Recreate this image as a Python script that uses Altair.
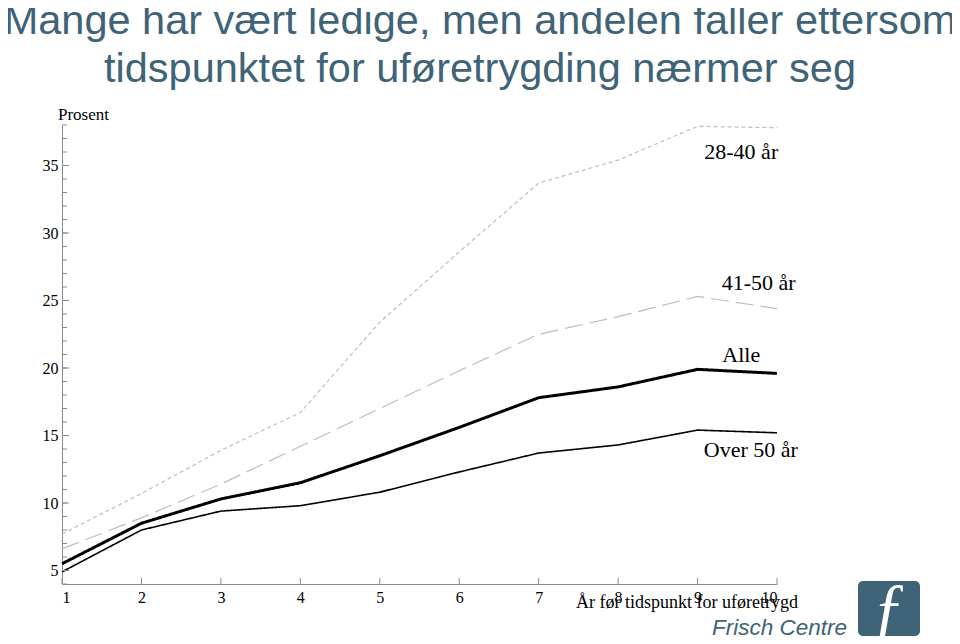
import altair as alt
import pandas as pd

years = [1, 2, 3, 4, 5, 6, 7, 8, 9, 10]
alle = [5.5, 8.5, 10.3, 11.5, 13.5, 15.6, 17.8, 18.6, 19.9, 19.6]
over50 = [4.9, 8.0, 9.4, 9.8, 10.8, 12.3, 13.7, 14.3, 15.4, 15.2]
age41_50 = [6.6, 8.9, 11.4, 14.2, 17.0, 19.8, 22.5, 23.8, 25.3, 24.4]
age28_40 = [7.7, 10.7, 13.9, 16.7, 23.4, 28.6, 33.7, 35.4, 37.9, 37.8]

series_names = ["28-40 år", "41-50 år", "Alle", "Over 50 år"]
label_x = [9.55, 9.77, 9.55, 9.67]
label_y = [36.0, 26.3, 21.0, 13.9]

y_major = [5, 10, 15, 20, 25, 30, 35]
y_minor = list(range(4, 39))

title1 = "Mange har vært ledige, men andelen faller ettersom"
title2 = "tidspunktet for uføretrygding nærmer seg"
y_title = "Prosent"
x_title = "År før tidspunkt for uføretrygd"

W, H = 715, 459
SERIF = "Liberation Serif"
TEAL = "#3f6377"

xs = alt.Scale(domain=[1, 10], nice=False)
ys = alt.Scale(domain=[4, 38], nice=False)

x_axis = alt.Axis(values=years, format="d", tickSize=0, labelPadding=5,
                  labelFont=SERIF, labelFontSize=16, labelColor="#000",
                  domainColor="#8a8a8a", grid=False, title="", labelAngle=0)
y_axis = alt.Axis(values=y_major, format="d", tickSize=0, labelPadding=4,
                  labelFont=SERIF, labelFontSize=16, labelColor="#000",
                  domainColor="#8a8a8a", grid=False, title="")


def series_layer(vals, color, width, dash, axes=False):
    d = pd.DataFrame({"year": years, "value": vals})
    m = alt.Chart(d).mark_line(color=color, strokeWidth=width, strokeDash=dash)
    if axes:
        return m.encode(x=alt.X("year:Q", scale=xs, axis=x_axis),
                        y=alt.Y("value:Q", scale=ys, axis=y_axis))
    return m.encode(x=alt.X("year:Q", scale=xs), y=alt.Y("value:Q", scale=ys))


l_28 = series_layer(age28_40, "#bdbdbd", 1.2, [4, 3], axes=True)
l_41 = series_layer(age41_50, "#bdbdbd", 1.2, [18, 7])
l_alle = series_layer(alle, "#000000", 3, [1, 0])
l_over = series_layer(over50, "#000000", 1.6, [1, 0])

lab_df = pd.DataFrame({"name": series_names, "x": label_x, "y": label_y})
labels = alt.Chart(lab_df).mark_text(font=SERIF, fontSize=22, color="#000",
                                     baseline="middle", align="center").encode(
    x=alt.X("x:Q", scale=xs), y=alt.Y("y:Q", scale=ys), text="name:N")

minor_df = pd.DataFrame({"v": y_minor})
ytick_minor = alt.Chart(minor_df).mark_rule(color="#8a8a8a", strokeWidth=1).encode(
    y=alt.Y("v:Q", scale=ys), x=alt.value(0), x2=alt.value(5))
major_df = pd.DataFrame({"v": y_major})
ytick_major = alt.Chart(major_df).mark_rule(color="#8a8a8a", strokeWidth=1).encode(
    y=alt.Y("v:Q", scale=ys), x=alt.value(0), x2=alt.value(7))
xt_df = pd.DataFrame({"v": years})
xticks = alt.Chart(xt_df).mark_rule(color="#8a8a8a", strokeWidth=1).encode(
    x=alt.X("v:Q", scale=xs), y=alt.value(H), y2=alt.value(H - 6))


def txt(s, x, y, **kw):
    return alt.Chart(pd.DataFrame({"t": [s]})).mark_text(**kw).encode(
        text="t:N", x=alt.value(x), y=alt.value(y))


t1 = txt(title1, 418, -91, font="Liberation Sans", fontSize=41.5, color=TEAL,
         align="center", baseline="alphabetic")
t2 = txt(title2, 418, -43, font="Liberation Sans", fontSize=41.5, color=TEAL,
         align="center", baseline="alphabetic")
ylab = txt(y_title, -4, -5, font=SERIF, fontSize=17, color="#000",
           align="left", baseline="alphabetic")
xlab = txt(x_title, 625, 483, font=SERIF, fontSize=18, color="#000",
           align="center", baseline="alphabetic")
brand = txt("Frisch Centre", 650, 510, font="Liberation Sans", fontSize=22.5,
            fontStyle="italic", color=TEAL, align="left", baseline="alphabetic")

logo_box = alt.Chart(pd.DataFrame({"a": [1]})).mark_rect(
    color=TEAL, cornerRadius=5).encode(
    x=alt.value(796), x2=alt.value(858), y=alt.value(456), y2=alt.value(511))
logo_f = txt("ƒ", 827, 503, font="Liberation Serif", fontSize=66,
             fontStyle="italic", color="#ffffff", align="center",
             baseline="alphabetic")

chart = alt.layer(
    l_28, l_41, l_alle, l_over, ytick_minor, ytick_major, xticks, labels,
    t1, t2, ylab, xlab, brand, logo_box, logo_f
).properties(
    width=W, height=H,
    background="#ffffff",
    autosize=alt.AutoSizeParams(type="none"),
    padding={"left": 54, "top": 117, "right": 175, "bottom": 52},
).configure_view(stroke=None)

chart.save("out.html", embed_options={"renderer": "svg", "actions": False})
